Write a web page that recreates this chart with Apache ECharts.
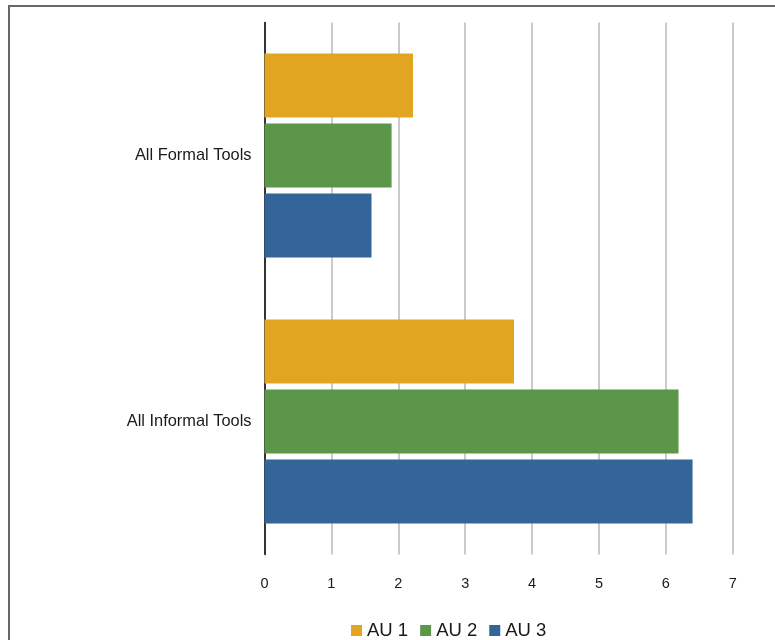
<!DOCTYPE html>
<html>
<head>
<meta charset="utf-8">
<style>
  html, body { margin: 0; padding: 0; background: #ffffff; }
  #chart { width: 775px; height: 640px; }
</style>
<script src="https://cdn.jsdelivr.net/npm/echarts@6/dist/echarts.min.js"></script>
</head>
<body>
<div id="chart"></div>
<script>
// Tool groups (top to bottom)
const categories = ['All Formal Tools', 'All Informal Tools'];
// Values per assessment unit
const au1 = [2.22, 3.73];
const au2 = [1.90, 6.19];
const au3 = [1.60, 6.40];
const seriesNames = ['AU 1', 'AU 2', 'AU 3'];
const xTicks = [0, 1, 2, 3, 4, 5, 6, 7];

const colors = ['#e2a521', '#5c9649', '#336598'];
const font = '"Liberation Sans", Arial, sans-serif';

const chart = echarts.init(document.getElementById('chart'), null, { renderer: 'canvas' });

const makeSeries = (name, data, i) => ({
  name: name,
  type: 'bar',
  data: data,
  barWidth: 64,
  barGap: '9.5%',
  itemStyle: { color: colors[i] },
  emphasis: { disabled: true },
  animation: false
});

chart.setOption({
  animation: false,
  color: colors,
  textStyle: { fontFamily: font },
  grid: { left: 264.5, right: 42.3, top: 22.5, bottom: 85.5, containLabel: false },
  graphic: [{
    type: 'rect',
    z: -10,
    shape: { x: 9, y: 6, width: 800, height: 700 },
    style: { fill: 'none', stroke: '#676767', lineWidth: 2 }
  }],
  legend: {
    data: seriesNames,
    left: 351,
    top: 621,
    itemWidth: 11,
    itemHeight: 11,
    itemGap: 12,
    icon: 'rect',
    textStyle: { fontSize: 18.5, color: '#1a1a1a', fontFamily: font, padding: [0, 0, 0, 0] },
    padding: 0
  },
  xAxis: {
    type: 'value',
    min: xTicks[0],
    max: xTicks[xTicks.length - 1],
    interval: 1,
    axisLine: { show: false },
    axisTick: { show: false },
    splitLine: { show: true, lineStyle: { color: '#b9b9b9', width: 1.5 } },
    axisLabel: { fontSize: 14.5, color: '#1a1a1a', margin: 21.5, fontFamily: font }
  },
  yAxis: {
    type: 'category',
    data: categories,
    inverse: true,
    axisLine: { show: true, lineStyle: { color: '#000000', width: 1.5 } },
    axisTick: { show: false },
    axisLabel: { fontSize: 16.4, color: '#1a1a1a', margin: 13, fontFamily: font }
  },
  series: [
    makeSeries(seriesNames[0], au1, 0),
    makeSeries(seriesNames[1], au2, 1),
    makeSeries(seriesNames[2], au3, 2)
  ]
});
</script>
</body>
</html>
